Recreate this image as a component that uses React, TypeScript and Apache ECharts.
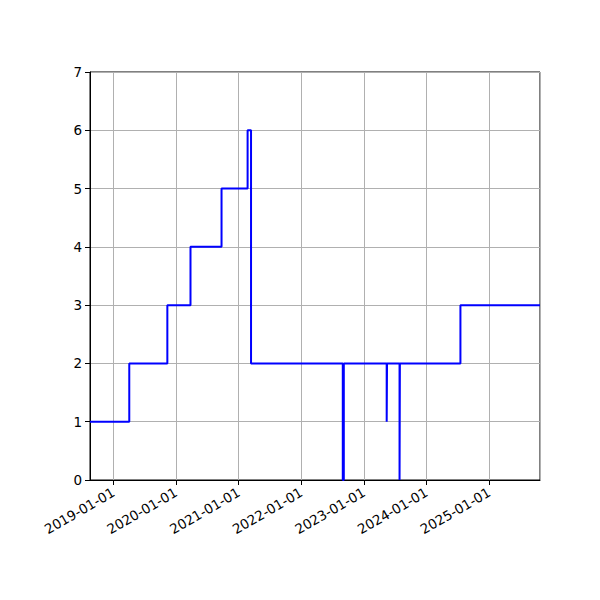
import React, { useEffect, useRef } from "react";
import * as echarts from "echarts";

// change dates and the value held from each date on (steps-post)
const dates = [
  "2018-08-18", "2019-04-04", "2019-11-12", "2020-03-26", "2020-09-23",
  "2021-02-22", "2021-03-14", "2022-08-31", "2022-09-06", "2023-05-14",
  "2023-05-16", "2023-07-28", "2023-07-30", "2024-07-17", "2025-10-24",
];
const values = [1, 2, 3, 4, 5, 6, 2, 0, 2, 1, 2, 0, 2, 3, 3];

const xMin = "2018-08-18";
const xMax = "2025-10-24";
const yMin = 0;
const yMax = 7;

const YEAR = 365 * 24 * 3600 * 1000;

const App: React.FC = () => {
  const chartRef = useRef<HTMLDivElement | null>(null);

  useEffect(() => {
    if (!chartRef.current) return;
    const chart = echarts.init(chartRef.current, undefined, { renderer: "svg" });

    const font = { fontFamily: "DejaVu Sans", fontSize: 13.5, color: "#000" };

    chart.setOption({
      animation: false,
      grid: {
        left: 90,
        right: 60,
        top: 72,
        bottom: 120,
        show: true,
        borderColor: "#000",
        borderWidth: 1,
      },
      xAxis: {
        type: "time",
        min: xMin,
        max: xMax,
        minInterval: YEAR,
        maxInterval: YEAR + 24 * 3600 * 1000,
        axisLine: { show: true, lineStyle: { color: "#000", width: 1 } },
        axisTick: { show: true, length: 5, inside: false, lineStyle: { color: "#000" } },
        minorTick: { show: false },
        splitLine: { show: true, lineStyle: { color: "#b0b0b0", width: 1 } },
        axisLabel: {
          ...font,
          rotate: 30,
          margin: 11,
          formatter: "{yyyy}-{MM}-{dd}",
          showMinLabel: false,
          showMaxLabel: false,
          hideOverlap: false,
        },
      },
      yAxis: {
        type: "value",
        min: yMin,
        max: yMax,
        interval: 1,
        axisLine: { show: true, lineStyle: { color: "#000", width: 1 } },
        axisTick: { show: true, length: 5, inside: false, lineStyle: { color: "#000" } },
        splitLine: { show: true, lineStyle: { color: "#b0b0b0", width: 1 } },
        axisLabel: { ...font, margin: 8 },
      },
      series: [
        {
          type: "line",
          step: "end",
          showSymbol: false,
          data: dates.map((d, i) => [d, values[i]]),
          lineStyle: { color: "#0000ff", width: 2 },
          itemStyle: { color: "#0000ff" },
        },
      ],
    });

    return () => {
      chart.dispose();
    };
  }, []);

  return (
    <div
      ref={chartRef}
      style={{ position: "fixed", left: 0, top: 0, width: "600px", height: "600px", background: "#fff" }}
    />
  );
};

export default App;
